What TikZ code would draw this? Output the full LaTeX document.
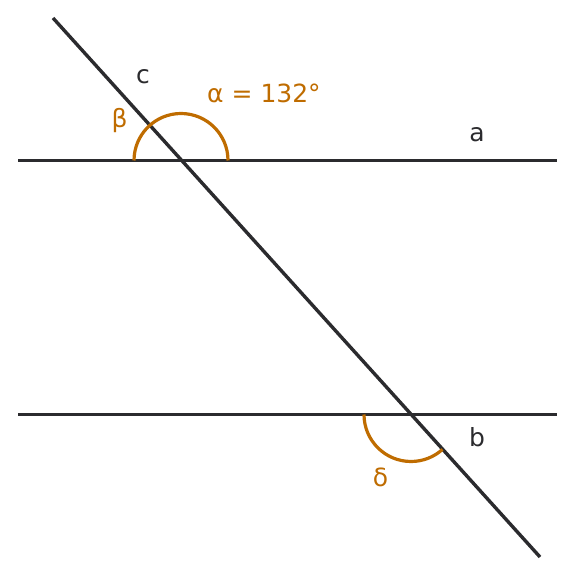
\documentclass[tikz,border=0pt]{standalone}
\usepackage{fontspec}
\setmainfont{DejaVu Sans}
\definecolor{ink}{RGB}{43,43,46}
\definecolor{ang}{RGB}{191,108,0}
\begin{document}
\begin{tikzpicture}[x=1pt,y=1pt,
  ln/.style={draw=ink,line width=3.4pt},
  arcl/.style={draw=ang,line width=3.2pt},
  lbl/.style={inner sep=0pt,anchor=base,font=\fontsize{25}{29}\selectfont},
  dark/.style={lbl,text=ink},
  orng/.style={lbl,text=ang}]
\useasboundingbox (0,0) rectangle (576,576);
% lines
\coordinate (a1) at (18,415.5);
\coordinate (a2) at (557,415.5);
\coordinate (b1) at (18,161.5);
\coordinate (b2) at (557,161.5);
\coordinate (c1) at (53,558);
\coordinate (c2) at (540,19);
\coordinate (P) at (181,415.5);
\coordinate (Q) at (411,161.5);
\draw[ln] (a1) -- (a2);
\draw[ln] (b1) -- (b2);
\draw[ln] (c1) -- (c2);
% angle arcs
\draw[arcl] ([xshift=47pt]P) arc[start angle=0,end angle=180,radius=47];
\draw[arcl] ([xshift=-47pt]Q) arc[start angle=180,end angle=312,radius=47];
% labels
\node[dark] (lc) at (143,492) {c};
\node[dark] (la) at (477,434.5) {a};
\node[dark] (lb) at (477,129.5) {b};
\node[orng] (lal) at (264,473) {α = 132°};
\node[orng] (lbe) at (119.5,448) {β};
\node[orng] (lde) at (380.5,89.5) {δ};
\end{tikzpicture}
\end{document}
